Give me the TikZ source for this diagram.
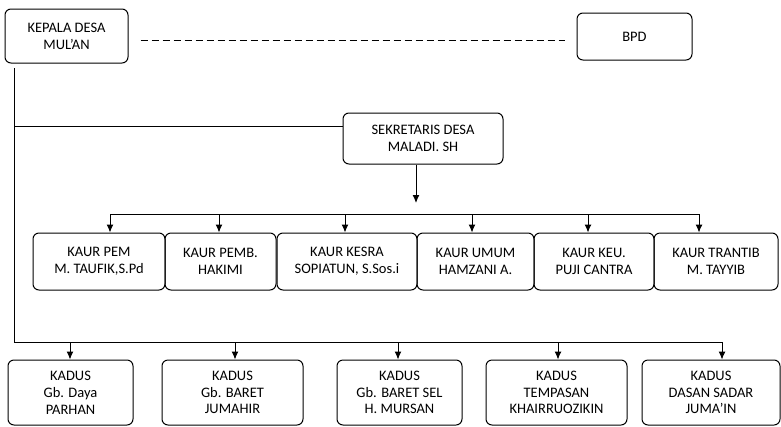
\documentclass[tikz,border=0pt]{standalone}
\usepackage{fontspec}
\setmainfont{Carlito}
\usetikzlibrary{arrows.meta}

\begin{document}
\begin{tikzpicture}[x=1pt,y=-1pt,line width=1pt,
  kotak/.style={draw,rounded corners=6pt,align=center,inner sep=0pt,
    font=\fontsize{14.5}{16.8}\selectfont},
  panah/.style={-{Latex[length=8pt,width=7pt]}}]
\useasboundingbox (0,0) rectangle (781,426);

\node (kepala) at (66.5,36) [kotak,minimum width=123pt,minimum height=54pt] {KEPALA DESA\\MUL'AN};
\node (bpd) at (634.5,36.5) [kotak,minimum width=115pt,minimum height=47pt] {BPD};
\node (sekdes) at (423,138.5) [kotak,minimum width=160pt,minimum height=51pt] {SEKRETARIS DESA\\MALADI. SH};

\draw [dashed,dash pattern=on 7pt off 4pt] ([xshift=12pt,yshift=-4pt]kepala.east) -- ([xshift=-12pt,yshift=-3.5pt]bpd.west);

\foreach \n/\x/\w/\t in {1/99/132/{KAUR PEM\\M. TAUFIK,S.Pd},
  2/220.5/111/{KAUR PEMB.\\HAKIMI},
  3/347/140/{KAUR KESRA\\SOPIATUN, S.Sos.i},
  4/475.5/117/{KAUR UMUM\\HAMZANI A.},
  5/594/120/{KAUR KEU.\\PUJI CANTRA},
  6/716/124/{KAUR TRANTIB\\M. TAYYIB}}
  \node (k\n) at (\x,261.5) [kotak,minimum width=\w pt,minimum height=57pt] {\t};

\foreach \n/\x/\w/\t in {1/70.5/125/{KADUS\\Gb. Daya\\PARHAN},
  2/232.5/141/{KADUS\\Gb. BARET\\JUMAHIR},
  3/399.5/125/{KADUS\\Gb. BARET SEL\\H. MURSAN},
  4/556.5/141/{KADUS\\TEMPASAN\\KHAIRRUOZIKIN},
  5/711/138/{KADUS\\DASAN SADAR\\JUMA'IN}}
  \node (d\n) at (\x,392.5) [kotak,minimum width=\w pt,minimum height=65pt] {\t};

\coordinate (t0) at (14,68);
\coordinate (t1) at (14,126);
\coordinate (t2) at (14,342);
\coordinate (s1) at (416,203);

\draw (t0) -- (t2);
\draw (t1) -- (t1 -| sekdes.west);
\draw [panah] (sekdes.south -| s1) -- (s1);

\foreach \n/\x in {1/110,2/219,3/345,4/472,5/588,6/699}
{
\coordinate (a\n) at (\x,214);
\draw [panah] (a\n) -- (a\n |- k\n.north);
}
\draw (a1) -- (a6);

\foreach \n/\x in {1/70,2/235,3/398,4/558,5/722}
{
\coordinate (b\n) at (\x,342);
\draw [panah] (b\n) -- (b\n |- d\n.north);
}
\draw (t2) -- (b5);
\end{tikzpicture}
\end{document}
